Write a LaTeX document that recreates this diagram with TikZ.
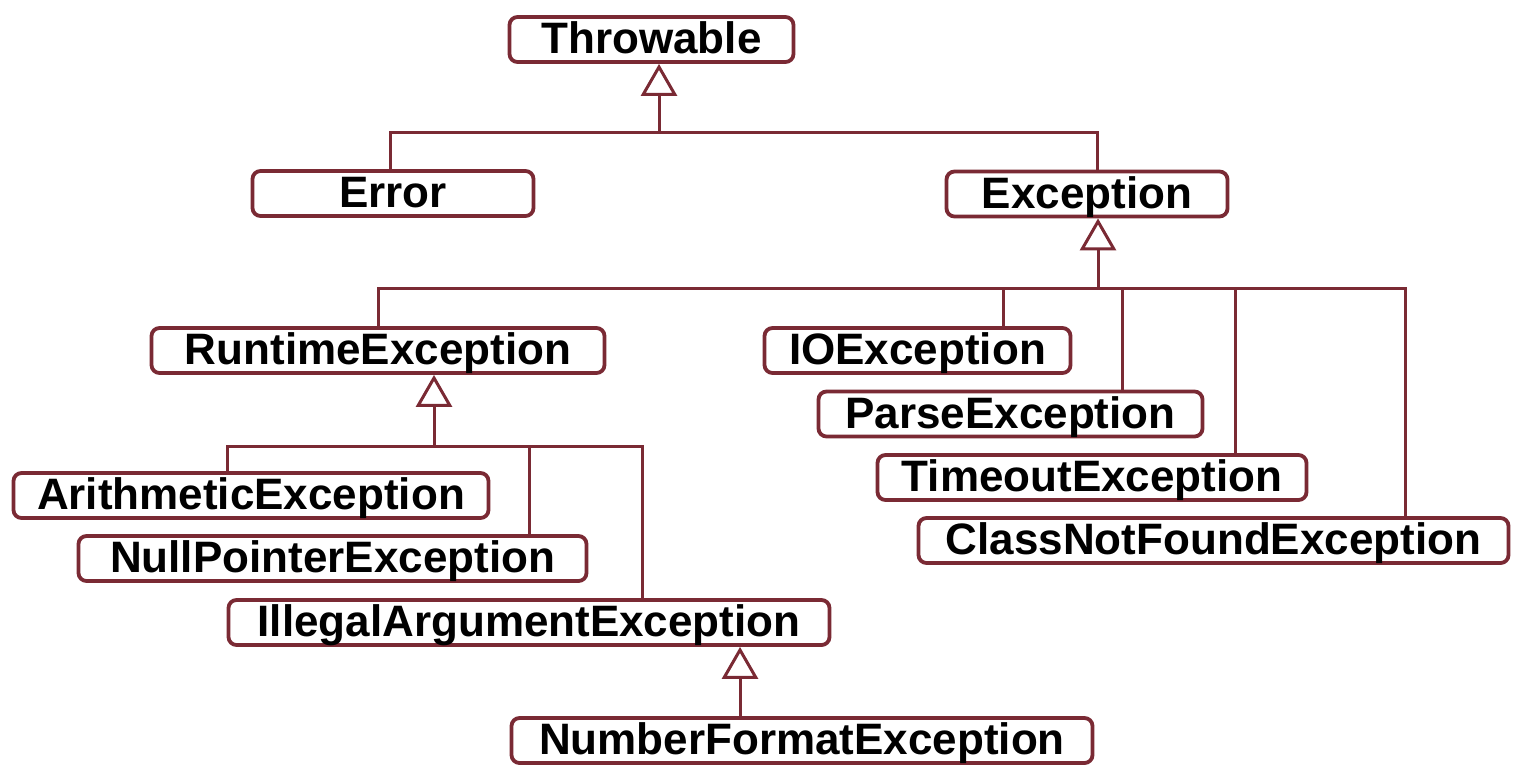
\documentclass[tikz,border=0pt]{standalone}
\usepackage{fontspec}
\setmainfont{Liberation Sans}
\usetikzlibrary{arrows.meta}
\definecolor{maroon}{RGB}{122,42,52}
\begin{document}
\begin{tikzpicture}[x=1pt,y=-1pt,
  cls/.style={draw=maroon, line width=3.8pt, rounded corners=8pt, fill=white,
    minimum height=45pt, inner sep=0pt, text height=36pt, text depth=8pt,
    font=\fontsize{44}{50}\selectfont\bfseries},
  conn/.style={draw=maroon, line width=3pt},
  inh/.style={conn, -{Triangle[open, length=32pt, width=36pt, line width=3pt]}}]
\useasboundingbox (0,0) rectangle (1522,772);

\node[cls, minimum width=284pt] (throwable) at (651.5,39.5) {Throwable};
\node[cls, minimum width=281pt] (error) at (393,193.5) {Error};
\node[cls, minimum width=281pt] (exception) at (1087,194) {Exception};
\node[cls, minimum width=453pt] (runtime) at (378,350.5) {RuntimeException};
\node[cls, minimum width=306pt] (io) at (917.5,350.5) {IOException};
\node[cls, minimum width=384pt] (parse) at (1010.5,414) {ParseException};
\node[cls, minimum width=429pt] (timeout) at (1092,477.5) {TimeoutException};
\node[cls, minimum width=590pt] (cnf) at (1213.5,540.5) {ClassNotFoundException};
\node[cls, minimum width=475pt] (arith) at (251,495.5) {ArithmeticException};
\node[cls, minimum width=508pt] (npe) at (332.5,558.5) {NullPointerException};
\node[cls, minimum width=601pt] (iae) at (529,622.5) {IllegalArgumentException};
\node[cls, minimum width=581pt] (nfe) at (802,740.5) {NumberFormatException};

% Throwable level
\coordinate (b1) at (659,132);
\coordinate (b1l) at (390,132);
\coordinate (b1r) at (1097,132);
\draw[inh] (b1) -- (b1 |- throwable.south);
\draw[conn] (b1l |- error.north) -- (b1l) -- (b1r) -- (b1r |- exception.north);

% Exception level
\coordinate (b2) at (1098,288);
\coordinate (b2a) at (378,288);
\coordinate (b2b) at (1003,288);
\coordinate (b2c) at (1122,288);
\coordinate (b2d) at (1235,288);
\coordinate (b2e) at (1405,288);
\draw[inh] (b2) -- (b2 |- exception.south);
\draw[conn] (b2a |- runtime.north) -- (b2a) -- (b2e) -- (b2e |- cnf.north);
\draw[conn] (b2b) -- (b2b |- io.north);
\draw[conn] (b2c) -- (b2c |- parse.north);
\draw[conn] (b2d) -- (b2d |- timeout.north);

% RuntimeException level
\coordinate (b3) at (434,446);
\coordinate (b3a) at (227,446);
\coordinate (b3b) at (529,446);
\coordinate (b3c) at (642,446);
\draw[inh] (b3) -- (b3 |- runtime.south);
\draw[conn] (b3a |- arith.north) -- (b3a) -- (b3c) -- (b3c |- iae.north);
\draw[conn] (b3b) -- (b3b |- npe.north);

% IllegalArgumentException level
\coordinate (b4) at (740,700);
\draw[inh] (b4 |- nfe.north) -- (b4 |- iae.south);
\end{tikzpicture}
\end{document}
